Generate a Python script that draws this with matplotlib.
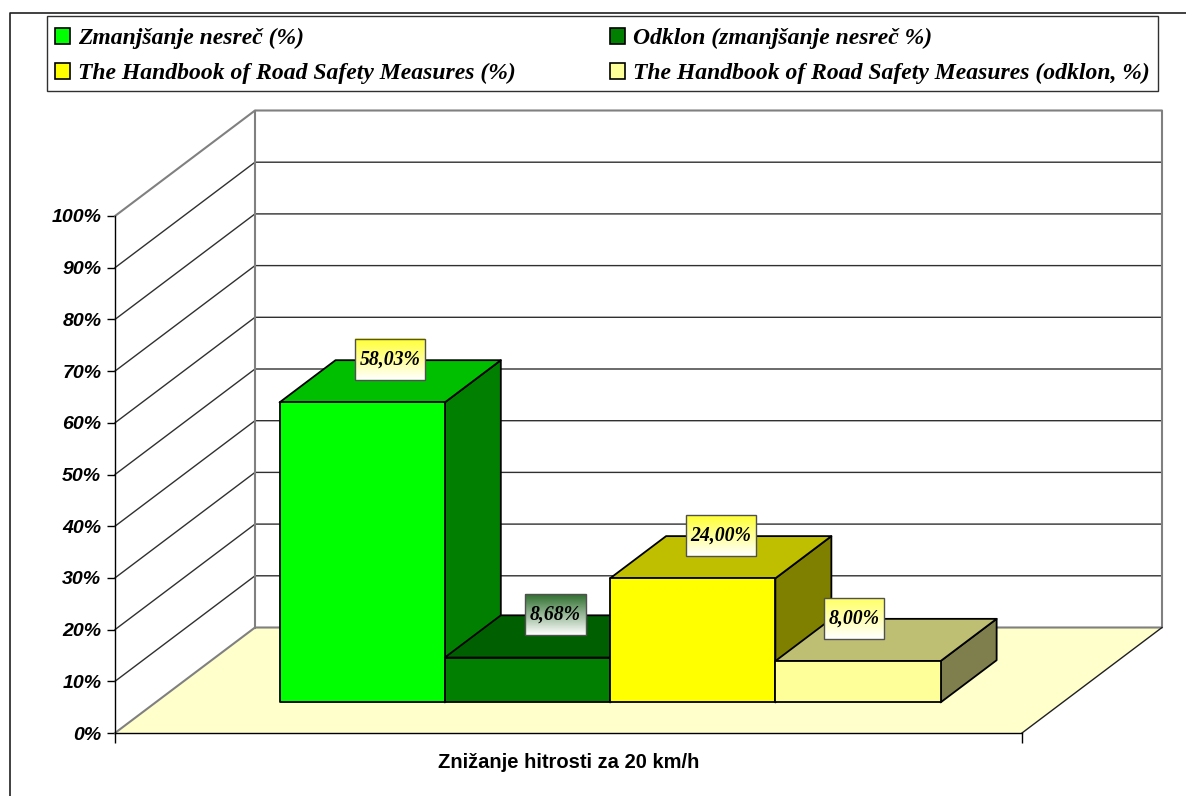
#%% Imports
import numpy as np
import matplotlib
matplotlib.use('Agg')
import matplotlib.pyplot as plt
from matplotlib.colors import LinearSegmentedColormap
from matplotlib.lines import Line2D
from matplotlib.patches import Patch, Polygon, Rectangle

#%% Data
series_names = ['Zmanjšanje nesreč (%)', 'Odklon (zmanjšanje nesreč %)',
                'The Handbook of Road Safety Measures (%)',
                'The Handbook of Road Safety Measures (odklon, %)']
series_values = [58.03, 8.68, 24.00, 8.00]
value_labels = ['58,03%', '8,68%', '24,00%', '8,00%']
category_label = 'Znižanje hitrosti za 20 km/h'
y_ticks = list(range(0, 101, 10))

#%% Colours and 3D look
front_colors = ['#00FF00', '#007F00', '#FFFF00', '#FFFF99']
top_colors = ['#00BF00', '#005F00', '#BFBF00', '#BFBF73']
side_colors = ['#007F00', '#007F00', '#7F7F00', '#7F7F4D']
label_tops = ['#FFFF33', '#2F6F2F', '#FFFF33', '#FFFF66']
label_shift = [0, 0, 0, -32]  # px, the last label was moved by hand

W, H = 1186, 796
DEPTH_X = 140 / 907   # wall offset in x units
DEPTH_Y = 105.5 / 5.17  # wall offset in percent
BAR_W = 1 / 5.488
BAR_X0 = 0.75 * BAR_W
D0, D1 = 0.29, 0.69


def proj(x, v, d):
    # oblique projection of (category pos, percent, depth)
    return x + d * DEPTH_X, v + d * DEPTH_Y


def poly(pts, **kw):
    ax.add_patch(Polygon([proj(*p) for p in pts], closed=True, clip_on=False, **kw))


fig = plt.figure(figsize=(W / 100, H / 100), dpi=100, facecolor='white')
ax = fig.add_axes([115 / W, 1 - 733 / H, 907 / W, 517 / H])
ax.set_xlim(0, 1)
ax.set_ylim(0, 100)
ax.patch.set_visible(False)

#%% Walls and floor
poly([(0, 0, 1), (1, 0, 1), (1, 100, 1), (0, 100, 1)], fc='white', ec='none', zorder=1)
poly([(0, 0, 0), (0, 0, 1), (1, 0, 1), (1, 0, 0)], fc='#FFFFCC', ec='none', zorder=1)

for v in y_ticks[1:-1]:
    xs, ys = zip(*[proj(0, v, 0), proj(0, v, 1), proj(1, v, 1)])
    ax.plot(xs, ys, color='#303030', lw=1.0, zorder=2, clip_on=False)
xs, ys = zip(*[proj(0, 0, 0), proj(0, 0, 1), proj(1, 0, 1), proj(1, 100, 1),
               proj(0, 100, 1), proj(0, 100, 0)])
ax.plot(xs, ys, color='#808080', lw=1.5, zorder=2, clip_on=False)
xs, ys = zip(*[proj(0, 0, 1), proj(0, 100, 1)])
ax.plot(xs, ys, color='#808080', lw=1.5, zorder=2, clip_on=False)
xs, ys = zip(*[proj(1, 0, 0), proj(1, 0, 1)])
ax.plot(xs, ys, color='#202020', lw=1.0, zorder=2, clip_on=False)

#%% Bars, left to right so the nearer faces cover the earlier ones
edge = dict(ec='black', lw=1.3, joinstyle='round')
for i, val in enumerate(series_values):
    x0 = BAR_X0 + i * BAR_W
    x1 = x0 + BAR_W
    z = 3 + i * 0.1
    poly([(x1, 0, D0), (x1, 0, D1), (x1, val, D1), (x1, val, D0)],
         fc=side_colors[i], zorder=z, **edge)
    poly([(x0, val, D0), (x1, val, D0), (x1, val, D1), (x0, val, D1)],
         fc=top_colors[i], zorder=z, **edge)
    poly([(x0, 0, D0), (x1, 0, D0), (x1, val, D0), (x0, val, D0)],
         fc=front_colors[i], zorder=z, **edge)

#%% Axis lines, ticks and labels
for s in ['top', 'right']:
    ax.spines[s].set_visible(False)
for s in ['left', 'bottom']:
    ax.spines[s].set_linewidth(1.0)
    ax.spines[s].set_zorder(2.5)
ax.set_yticks(y_ticks)
ax.set_yticklabels([f'{v}%' for v in y_ticks], family='Liberation Sans',
                   weight='bold', style='italic', fontsize=14)
ax.set_xticks([0, 1])
ax.set_xticklabels([])
ax.tick_params(axis='y', length=5.8, width=1, pad=4)
ax.tick_params(axis='x', length=7, width=1)
ax.set_xlabel(category_label, family='Liberation Sans', weight='bold', fontsize=14.5, labelpad=4)

#%% Value labels with the gradient boxes
fig.canvas.draw()
renderer = fig.canvas.get_renderer()
for i, val in enumerate(series_values):
    cx, cy = proj(BAR_X0 + (i + 0.5) * BAR_W, val, (D0 + D1) / 2)
    cx += label_shift[i] / 907
    cy += 21.5 / 5.17
    t = ax.text(cx, cy, value_labels[i], family='Liberation Serif', weight='bold',
                style='italic', fontsize=14.2, ha='center', va='center', zorder=7, clip_on=False)
    tw = t.get_window_extent(renderer).width
    bw = (tw + 9) / 907
    bh = 41 / 5.17
    cmap = LinearSegmentedColormap.from_list('fade', [label_tops[i], 'white'])
    ax.imshow(np.linspace(0, 1, 64).reshape(-1, 1), cmap=cmap, aspect='auto', zorder=6,
              extent=(cx - bw / 2, cx + bw / 2, cy - bh / 2, cy + bh / 2), clip_on=False)
    ax.add_patch(Rectangle((cx - bw / 2, cy - bh / 2), bw, bh, fc='none', ec='#505050',
                           lw=1.0, zorder=6.5, clip_on=False))
ax.set_xlim(0, 1)
ax.set_ylim(0, 100)

#%% Legend, the box is drawn apart so the rows can sit a bit low in it
fig.add_artist(Rectangle((47 / W, 1 - 91 / H), 1111 / W, 75 / H, transform=fig.transFigure,
                         fc='white', ec='#303030', lw=1.0))
handles = [Patch(fc=c, ec='black', lw=1.2) for c in front_colors]
order = [0, 2, 1, 3]
leg = fig.legend([handles[i] for i in order], [series_names[i] for i in order],
                 ncol=2, loc='upper left', bbox_to_anchor=(47 / W, 1 - 20 / H),
                 prop=dict(family='Liberation Serif', weight='bold', style='italic', size=17),
                 frameon=False,
                 handlelength=0.64, handleheight=0.64, handletextpad=0.34,
                 columnspacing=3.98, labelspacing=0.59, borderpad=0.34, borderaxespad=0)

#%% Chart frame, only top and left fall inside the image
fig.add_artist(Line2D([9.5 / W, 9.5 / W, 1], [0, 1 - 13 / H, 1 - 13 / H], color='#202020', lw=1.2))

fig.savefig('out.png', dpi=100)
